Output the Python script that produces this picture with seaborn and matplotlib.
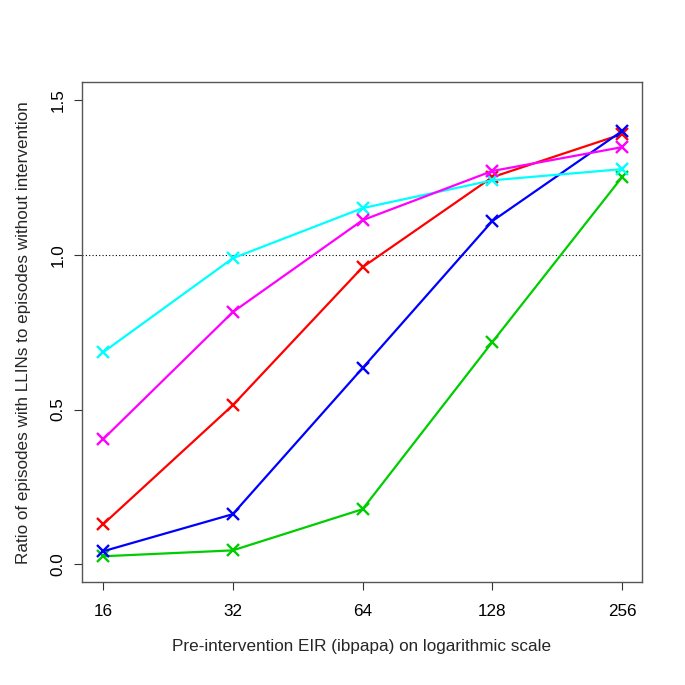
import matplotlib
matplotlib.use("Agg")
import matplotlib.pyplot as plt
import pandas as pd
import seaborn as sns

EIR = [16, 32, 64, 128, 256]
SERIES = ["red", "green", "blue", "cyan", "magenta"]
COLORS = ["#FF0000", "#00CD00", "#0000FF", "#00FFFF", "#FF00FF"]

red = [0.129, 0.514, 0.960, 1.251, 1.390]
green = [0.026, 0.045, 0.178, 0.718, 1.251]
blue = [0.042, 0.162, 0.634, 1.109, 1.400]
cyan = [0.685, 0.989, 1.151, 1.241, 1.277]
magenta = [0.404, 0.815, 1.112, 1.271, 1.348]

Y_TICKS = [0.0, 0.5, 1.0, 1.5]
Y_TICK_LABELS = ["0.0", "0.5", "1.0", "1.5"]


def build_frame() -> pd.DataFrame:
    rows = []
    for name, values in zip(SERIES, [red, green, blue, cyan, magenta]):
        for eir, ratio in zip(EIR, values):
            rows.append({"eir": eir, "ratio": ratio, "series": name})
    return pd.DataFrame(rows)


sns.set_theme(style="white")
plt.rcParams["font.family"] = ["Liberation Sans", "DejaVu Sans"]

frame = build_frame()
fig = plt.figure(figsize=(6.85, 6.85), dpi=100)
ax = fig.add_axes([0.1197, 0.150, 0.8175, 0.730])

sns.lineplot(
    data=frame,
    x="eir",
    y="ratio",
    hue="series",
    palette=dict(zip(SERIES, COLORS)),
    marker="x",
    markersize=8,
    linewidth=1.6,
    legend=False,
    ax=ax,
)
# seaborn paints marker edges white; R draws them in the line colour
for line in ax.lines:
    line.set_markeredgecolor(line.get_color())
    line.set_markeredgewidth(1.7)

ax.axhline(1.0, color="black", linestyle=(0, (1, 2)), linewidth=0.8, zorder=0)

ax.set_xscale("log", base=2)
ax.set_xlim(2 ** 3.838, 2 ** 8.154)
ax.set_ylim(-0.058, 1.558)
ax.set_xticks(EIR)
ax.set_xticklabels([str(v) for v in EIR])
ax.minorticks_off()
ax.set_yticks(Y_TICKS)
ax.set_yticklabels(Y_TICK_LABELS, rotation=90, va="center")
ax.tick_params(axis="both", direction="out", length=6, width=0.8,
               colors="#333333", labelcolor="black", labelsize=12.3,
               bottom=True, left=True)
ax.tick_params(axis="x", pad=10)
ax.tick_params(axis="y", pad=6)
for spine in ax.spines.values():
    spine.set_color("#555555")
    spine.set_linewidth(1.0)

ax.set_xlabel("Pre-intervention EIR (ibpapa) on logarithmic scale",
              fontsize=12.3, labelpad=14)
ax.set_ylabel("Ratio of episodes with LLINs to episodes without intervention",
              fontsize=12.3, labelpad=14)

fig.savefig("out.png", dpi=100, facecolor="white")
plt.close(fig)
